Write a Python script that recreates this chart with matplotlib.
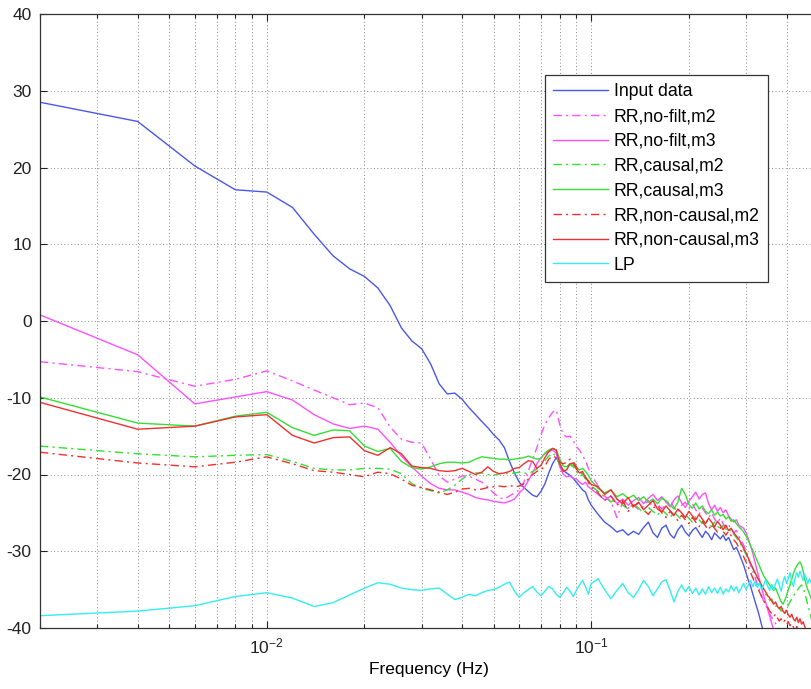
import numpy as np
import matplotlib
matplotlib.use("Agg")
import matplotlib.pyplot as plt
from matplotlib.ticker import LogLocator, FixedLocator, NullFormatter

plt.rcParams['font.family'] = ['Liberation Sans', 'DejaVu Sans']
plt.rcParams['mathtext.fontset'] = 'custom'
plt.rcParams['mathtext.rm'] = 'Liberation Sans'
plt.rcParams['mathtext.it'] = 'Liberation Sans:italic'
plt.rcParams['mathtext.bf'] = 'Liberation Sans:bold'
plt.rcParams['axes.unicode_minus'] = False

# frequency grid (Hz)
freq_lo = np.round(np.arange(1, 51) * 0.002, 4)          # 0.002 .. 0.100
freq_hi = np.round(0.1 + np.arange(1, 81) * 0.005, 4)    # 0.105 .. 0.500
freq = np.concatenate([freq_lo, freq_hi])

labels = ["Input data", "RR,no-filt,m2", "RR,no-filt,m3", "RR,causal,m2",
          "RR,causal,m3", "RR,non-causal,m2", "RR,non-causal,m3", "LP"]

input_lo = [28.5, 26.0, 20.2, 17.1, 16.8, 14.8, 11.3, 8.5, 6.8, 5.8,
            4.3, 2.0, -0.9, -2.6, -3.6, -5.6, -8.2, -9.5, -9.4, -10.2,
            -11.3, -12.2, -13.1, -13.9, -14.8, -15.5, -16.5, -18.3, -19.8, -21.0,
            -21.7, -22.2, -22.7, -22.9, -22.2, -21.2, -19.8, -18.6, -17.8, -18.6,
            -19.5, -19.8, -20.1, -20.5, -21.0, -21.5, -22.0, -22.3, -23.3, -24.0]
input_hi = [-25.2, -26.2, -26.8, -27.5, -27.2, -27.9, -27.4, -27.8, -26.9, -26.2,
            -27.6, -28.2, -27.0, -26.6, -27.8, -28.3, -27.2, -26.6, -27.5, -28.0,
            -27.3, -26.9, -27.6, -28.2, -27.4, -27.8, -28.5, -27.6, -28.0, -28.4,
            -27.9, -28.6, -28.2, -29.0, -29.8, -29.5, -30.2, -31.0, -31.8, -32.8,
            -33.8, -34.6, -35.6, -36.6, -37.5, -38.5, -39.6, -40.6, -41.5, -42.5,
            -43.3, -44.0, -44.8, -45.5, -46.0, -46.6, -47.0, -47.5, -48.0, -48.3,
            -48.7, -49.0, -49.3, -49.5, -49.8, -50.0, -50.2, -50.4, -50.6, -50.8,
            -51.0, -51.1, -51.3, -51.4, -51.5, -51.6, -51.7, -51.8, -51.9, -52.0]

nofilt_m2_lo = [-5.3, -6.6, -8.5, -7.6, -6.5, -7.8, -9.0, -10.0, -10.9, -10.7,
                -11.3, -13.8, -15.4, -15.8, -15.9, -18.0, -20.2, -21.0, -20.6, -20.2,
                -20.2, -20.6, -21.0, -21.6, -22.4, -23.0, -23.2, -22.8, -22.4, -22.0,
                -21.0, -19.5, -18.0, -16.5, -14.8, -13.5, -12.6, -11.9, -11.6, -13.5,
                -14.8, -15.1, -15.0, -15.6, -16.4, -16.8, -17.5, -18.2, -19.2, -20.0]
nofilt_m2_hi = [-21.5, -22.8, -23.5, -25.6, -23.6, -24.4, -23.9, -24.6, -24.1, -23.4,
                -24.2, -23.8, -24.5, -23.9, -23.4, -24.3, -24.9, -24.0, -23.6, -24.4,
                -23.8, -24.6, -25.2, -24.4, -25.0, -25.6, -25.0, -25.8, -26.3, -25.7,
                -26.4, -26.9, -26.5, -27.2, -27.6, -27.3, -28.0, -28.6, -29.2, -30.0,
                -30.8, -31.8, -32.6, -33.4, -34.3, -35.0, -35.8, -36.5, -37.0, -37.6,
                -38.2, -38.6, -39.1, -39.4, -39.9, -40.3, -40.8, -41.2, -41.6, -42.0,
                -42.3, -42.6, -42.9, -43.2, -43.4, -43.6, -43.8, -44.0, -44.2, -44.4,
                -44.5, -44.6, -44.7, -44.8, -44.9, -45.0, -45.1, -45.2, -45.3, -45.4]

nofilt_m3_lo = [0.8, -4.4, -10.8, -9.9, -9.2, -10.3, -12.2, -13.4, -14.0, -13.7,
                -14.1, -15.8, -17.6, -19.0, -20.2, -21.2, -21.8, -22.0, -22.0, -22.3,
                -22.6, -23.0, -23.2, -23.3, -23.5, -23.6, -23.7, -23.5, -23.2, -22.4,
                -21.8, -20.8, -19.8, -18.6, -17.8, -17.3, -17.0, -16.8, -17.2, -19.0,
                -20.0, -20.3, -20.2, -20.5, -20.6, -21.0, -21.3, -21.0, -21.6, -21.9]
nofilt_m3_hi = [-22.6, -23.3, -22.8, -23.8, -23.2, -24.0, -23.4, -23.0, -23.8, -23.1,
                -22.6, -23.4, -22.9, -23.6, -24.2, -23.3, -22.8, -23.7, -24.3, -23.5,
                -22.9, -22.3, -23.2, -22.6, -22.4, -23.8, -24.6, -24.0, -24.8, -24.3,
                -25.0, -24.6, -25.4, -25.8, -26.2, -25.9, -26.6, -26.8, -27.0, -27.6,
                -28.4, -29.3, -30.3, -31.5, -32.6, -33.7, -34.8, -35.8, -36.7, -37.6,
                -38.5, -39.4, -40.2, -40.9, -41.5, -42.0, -42.5, -42.9, -43.3, -43.7,
                -44.0, -44.3, -44.6, -44.9, -45.2, -45.4, -45.6, -45.8, -46.0, -46.2,
                -46.4, -46.5, -46.6, -46.7, -46.8, -46.9, -47.0, -47.1, -47.2, -47.3]

causal_m2_lo = [-16.3, -17.3, -17.7, -17.5, -17.4, -18.3, -19.2, -19.4, -19.4, -19.2,
                -19.2, -19.3, -19.9, -21.2, -21.8, -22.1, -22.4, -22.0, -21.4, -20.6,
                -20.0, -19.8, -19.8, -20.0, -20.1, -19.9, -19.8, -19.9, -19.8, -19.7,
                -19.8, -19.9, -19.6, -19.3, -18.8, -18.2, -17.6, -17.2, -17.6, -18.8,
                -19.4, -19.0, -18.7, -19.0, -19.6, -20.2, -20.0, -20.6, -21.1, -21.5]
causal_m2_hi = [-22.2, -22.9, -23.6, -23.1, -24.0, -24.5, -23.8, -24.4, -25.0, -24.3,
                -24.8, -25.3, -24.6, -25.1, -25.6, -24.9, -25.4, -25.9, -25.2, -25.7,
                -26.2, -25.5, -25.9, -26.4, -25.8, -26.3, -26.8, -26.2, -26.7, -27.1,
                -26.6, -27.1, -27.5, -27.2, -27.8, -28.2, -28.7, -29.2, -29.8, -30.4,
                -31.0, -31.7, -32.3, -32.9, -33.5, -34.1, -34.6, -35.1, -35.6, -36.0,
                -36.4, -36.2, -36.8, -37.2, -36.9, -37.4, -37.8, -37.4, -37.9, -37.5,
                -37.0, -36.6, -36.2, -35.8, -35.5, -35.2, -34.9, -34.6, -34.4, -34.8,
                -35.4, -36.2, -37.0, -37.8, -38.5, -39.2, -39.8, -40.4, -41.0, -41.5]

causal_m3_lo = [-9.9, -13.3, -13.7, -12.4, -11.9, -13.9, -14.9, -14.2, -14.3, -16.3,
                -17.0, -16.6, -18.3, -19.1, -19.3, -19.0, -18.6, -18.4, -18.4, -18.5,
                -18.4, -18.0, -17.7, -17.8, -17.9, -18.0, -18.0, -18.1, -18.0, -17.9,
                -17.8, -17.6, -17.8, -18.0, -17.9, -17.2, -16.8, -16.6, -16.8, -18.0,
                -18.9, -19.0, -18.6, -18.8, -19.2, -19.4, -19.2, -19.6, -20.1, -20.8]
causal_m3_hi = [-21.8, -22.4, -22.0, -22.9, -22.5, -23.1, -22.7, -23.4, -22.9, -23.6,
                -23.2, -23.8, -23.1, -23.4, -24.0, -24.5, -23.6, -21.8, -22.6, -23.9,
                -24.4, -23.7, -24.5, -24.1, -24.8, -25.1, -24.6, -25.3, -24.9, -25.4,
                -25.2, -25.8, -25.5, -26.1, -25.9, -26.4, -26.8, -27.1, -27.5, -28.0,
                -28.6, -29.3, -29.9, -30.6, -31.3, -31.9, -32.6, -33.2, -33.6, -34.0,
                -34.4, -34.7, -35.1, -34.8, -35.4, -36.0, -36.6, -36.9, -36.4, -35.8,
                -35.0, -34.4, -33.6, -32.9, -32.3, -31.9, -31.6, -31.4, -31.8, -32.6,
                -33.6, -34.4, -35.0, -35.5, -36.0, -36.5, -37.0, -37.5, -38.0, -38.5]

noncausal_m2_lo = [-17.1, -18.5, -19.0, -18.4, -17.7, -18.6, -19.5, -19.7, -20.0, -20.3,
                   -19.7, -19.9, -20.6, -21.4, -21.7, -22.0, -22.3, -22.6, -22.3, -21.9,
                   -21.8, -22.0, -21.9, -21.7, -21.6, -21.5, -21.6, -21.4, -21.6, -21.5,
                   -21.2, -20.6, -20.0, -19.6, -19.4, -18.9, -18.0, -17.6, -17.8, -18.4,
                   -18.6, -18.4, -18.0, -18.3, -19.0, -19.6, -19.9, -20.3, -21.0, -21.6]
noncausal_m2_hi = [-22.4, -23.4, -22.8, -24.0, -23.4, -24.8, -24.1, -23.7, -24.6, -25.2,
                   -24.4, -24.0, -25.0, -25.6, -24.8, -25.4, -26.0, -25.3, -25.9, -26.4,
                   -25.6, -26.2, -26.8, -26.1, -26.7, -27.2, -26.5, -27.0, -27.5, -26.9,
                   -27.4, -27.9, -27.4, -28.0, -28.5, -28.9, -29.5, -30.0, -30.7, -31.4,
                   -32.1, -32.8, -33.5, -34.1, -34.7, -35.3, -35.9, -36.4, -36.9, -37.3,
                   -37.8, -38.1, -38.5, -38.2, -38.7, -39.1, -38.8, -39.3, -39.0, -39.5,
                   -39.2, -39.7, -39.4, -39.9, -40.2, -39.8, -40.4, -40.1, -40.6, -40.9,
                   -41.2, -41.5, -41.8, -42.0, -42.2, -42.4, -42.6, -42.8, -43.0, -43.2]

noncausal_m3_lo = [-10.6, -14.1, -13.7, -12.5, -12.2, -14.9, -15.9, -15.2, -15.1, -16.9,
                   -17.5, -16.5, -17.3, -18.9, -19.1, -19.2, -19.5, -19.6, -19.5, -19.2,
                   -19.6, -20.0, -19.7, -19.0, -19.6, -19.9, -19.8, -19.6, -19.2, -19.1,
                   -18.6, -18.2, -18.3, -19.2, -18.8, -17.8, -17.0, -16.6, -16.8, -18.6,
                   -19.6, -19.4, -18.6, -18.5, -19.3, -19.8, -19.6, -20.4, -20.8, -21.3]
noncausal_m3_hi = [-21.6, -22.6, -22.0, -23.2, -23.8, -23.0, -24.2, -23.6, -24.6, -24.0,
                   -23.4, -24.5, -24.9, -24.1, -24.7, -25.3, -24.5, -25.0, -25.6, -24.8,
                   -25.4, -25.9, -25.2, -25.8, -26.4, -25.7, -26.2, -26.8, -26.1, -26.6,
                   -27.2, -26.6, -27.3, -27.0, -27.6, -28.0, -28.4, -29.0, -29.6, -30.2,
                   -30.9, -31.6, -32.2, -32.8, -33.4, -33.9, -34.4, -34.9, -35.3, -35.8,
                   -36.1, -36.5, -36.9, -36.6, -37.2, -37.5, -37.2, -37.8, -38.1, -37.7,
                   -38.3, -38.6, -38.2, -38.8, -39.1, -38.6, -39.3, -38.8, -39.5, -39.2,
                   -39.8, -40.3, -40.8, -41.2, -41.5, -41.8, -42.0, -42.2, -42.4, -42.6]

lp_lo = [-38.4, -37.8, -37.1, -35.9, -35.4, -36.1, -37.2, -36.7, -35.7, -34.8,
         -34.1, -34.3, -34.8, -35.0, -35.1, -34.9, -34.8, -35.6, -36.3, -36.0,
         -35.6, -35.8, -35.4, -35.1, -35.0, -34.7, -34.3, -34.0, -35.2, -36.0,
         -35.4, -35.0, -34.6, -35.3, -35.8, -35.2, -34.6, -34.9, -35.6, -36.0,
         -35.4, -34.7, -35.2, -35.9, -35.1, -34.4, -33.8, -34.6, -35.6, -34.2]
lp_hi = [-33.6, -35.0, -36.2, -35.1, -34.2, -35.4, -36.0, -35.0, -33.8, -34.6,
         -35.8, -34.9, -34.0, -33.7, -35.1, -36.6, -35.2, -34.4, -35.3, -34.6,
         -35.5, -34.8, -35.7, -34.9, -35.6, -34.6, -35.4, -34.8, -35.5, -34.7,
         -35.6, -34.9, -35.3, -34.5, -35.2, -34.6, -35.4, -34.8, -34.2, -35.0,
         -34.4, -33.8, -34.6, -33.9, -34.7, -34.1, -35.0, -34.4, -33.7, -34.6,
         -35.1, -34.3, -35.0, -34.2, -33.6, -34.5, -35.2, -34.0, -33.3, -34.2,
         -33.6, -32.8, -33.9, -34.6, -33.5, -32.8, -33.4, -32.6, -33.2, -33.8,
         -33.0, -33.5, -34.2, -33.6, -34.0, -34.3, -34.6, -34.9, -35.1, -35.3]

series = [input_lo + input_hi, nofilt_m2_lo + nofilt_m2_hi, nofilt_m3_lo + nofilt_m3_hi,
          causal_m2_lo + causal_m2_hi, causal_m3_lo + causal_m3_hi,
          noncausal_m2_lo + noncausal_m2_hi, noncausal_m3_lo + noncausal_m3_hi,
          lp_lo + lp_hi]

colors = ['#4a58ea', '#ff50ff', '#ff50ff', '#33e033', '#33e033', '#f03030', '#f03030', '#33eef0']
dashdot = (0, (6, 3, 1.5, 3))
styles = ['-', dashdot, '-', dashdot, '-', dashdot, '-', '-']

fig = plt.figure(figsize=(8.11, 6.89), dpi=100)
ax = fig.add_axes([40 / 811, 61 / 689, 778 / 811, 614 / 689])

for y, c, ls, lab in zip(series, colors, styles, labels):
    ax.plot(freq, y, color=c, linestyle=ls, linewidth=1.0, label=lab)

ax.set_xscale('log')
ax.set_xlim(0.002, 0.5)
ax.set_ylim(-40, 40)
ax.set_yticks(np.arange(-40, 41, 10))
ax.xaxis.set_major_locator(FixedLocator([0.01, 0.1]))
ax.xaxis.set_minor_locator(LogLocator(base=10, subs=np.arange(2, 10), numticks=20))
ax.xaxis.set_minor_formatter(NullFormatter())
ax.set_xticklabels([r'$10^{-2}$', r'$10^{-1}$'])

grid_kw = dict(color='#8a8a8a', linestyle=(0, (1, 2.5)), linewidth=0.7)
ax.grid(True, which='major', axis='both', **grid_kw)
ax.grid(True, which='minor', axis='x', **grid_kw)
ax.set_axisbelow(True)

ax.tick_params(which='both', direction='in', top=True, right=True, labelsize=12.5,
               colors='#222222', width=0.8)
ax.tick_params(which='major', length=5, pad=6)
ax.tick_params(which='minor', length=3)
for s in ax.spines.values():
    s.set_color('#333333')
    s.set_linewidth(0.9)

ax.set_xlabel('Frequency (Hz)', fontsize=12.5, labelpad=4)

leg = ax.legend(loc='upper left', bbox_to_anchor=(0.649, 0.9), fontsize=12.7,
                frameon=True, fancybox=False, framealpha=1, edgecolor='#333333',
                handlelength=3.1, handletextpad=0.35, labelspacing=0.44,
                borderpad=0.45, borderaxespad=0)
leg.get_frame().set_linewidth(0.9)

fig.savefig('out.png', dpi=100)
